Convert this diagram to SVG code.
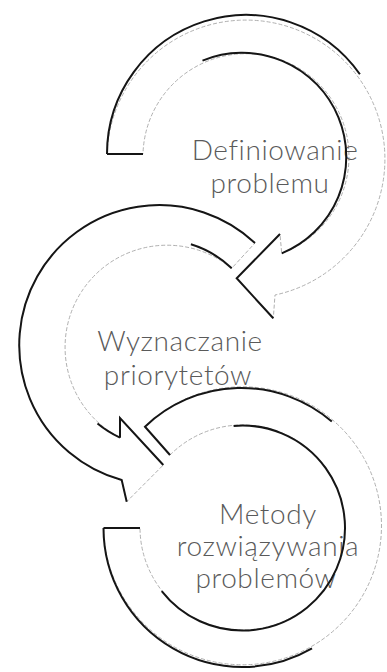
<svg xmlns="http://www.w3.org/2000/svg" width="387" height="672" viewBox="0 0 387 672">
<style>
.band{fill:#fff;stroke:#b0b0b0;stroke-width:1;stroke-dasharray:4 2}
.dark{fill:none;stroke:#151515;stroke-width:2;stroke-linejoin:miter;stroke-linecap:butt}
.lbl{font-family:Lato,"Open Sans","DejaVu Sans",sans-serif;font-weight:300;font-size:28px;letter-spacing:0.6px;fill:#5a5a5a;text-anchor:middle}
</style>
<rect width="387" height="672" fill="#fff"/>
<g id="node1">
<path class="band" d="M107,154 A139,139 0 1 1 275,295 L273.3,318.3 L236.7,278.3 L280,234 L281.7,253.3 A103,103 0 1 0 143,154 Z"/>
<text class="lbl" x="275" y="160">Definiowanie</text>
<text class="lbl" x="270" y="193">problemu</text>
<path class="dark" d="M107,154 A139,139 0 0 1 359.9,74.3"/>
<path class="dark" d="M107,154 L143,154"/>
<path class="dark" d="M202.5,60.6 A103,103 0 1 1 281.7,253.3"/>
<path class="dark" d="M280,234 L236.7,278.3 L273.3,318.3"/>
</g>
<g id="node2">
<path class="band" d="M255,243 A140,140 0 1 0 121.7,480 L126.7,501.7 L163.3,465 L120,418 L120,437.7 A102,102 0 1 1 231.7,268.3 Z"/>
<text class="lbl" x="180" y="351">Wyznaczanie</text>
<text class="lbl" x="178" y="385">priorytetów</text>
<path class="dark" d="M255,243 A140,140 0 1 0 121.7,480 L126.7,501.7"/>
<path class="dark" d="M163.3,465 L120,418 L120,437.7"/>
<path class="dark" d="M120,437.7 A102,102 0 0 1 97.5,423.6"/>
<path class="dark" d="M190.9,244.2 A102,102 0 0 1 231.7,268.3"/>
</g>
<g id="node3">
<path class="band" d="M103.5,528 A139,139 0 1 0 145,426.7 L170,455 A102.5,102.5 0 1 1 140,528 Z"/>
<text class="lbl" x="268" y="524">Metody</text>
<text class="lbl" x="268" y="556">rozwiązywania</text>
<text class="lbl" x="266" y="588">problemów</text>
<path class="dark" d="M103.5,528 L140,528"/>
<path class="dark" d="M103.5,528 A139,139 0 0 0 312,648.4"/>
<path class="dark" d="M331.8,421.5 A139,139 0 0 0 145,426.7 L170,455"/>
<path class="dark" d="M161.7,591.1 A102.5,102.5 0 1 0 233.6,425.9"/>
</g>
</svg>
